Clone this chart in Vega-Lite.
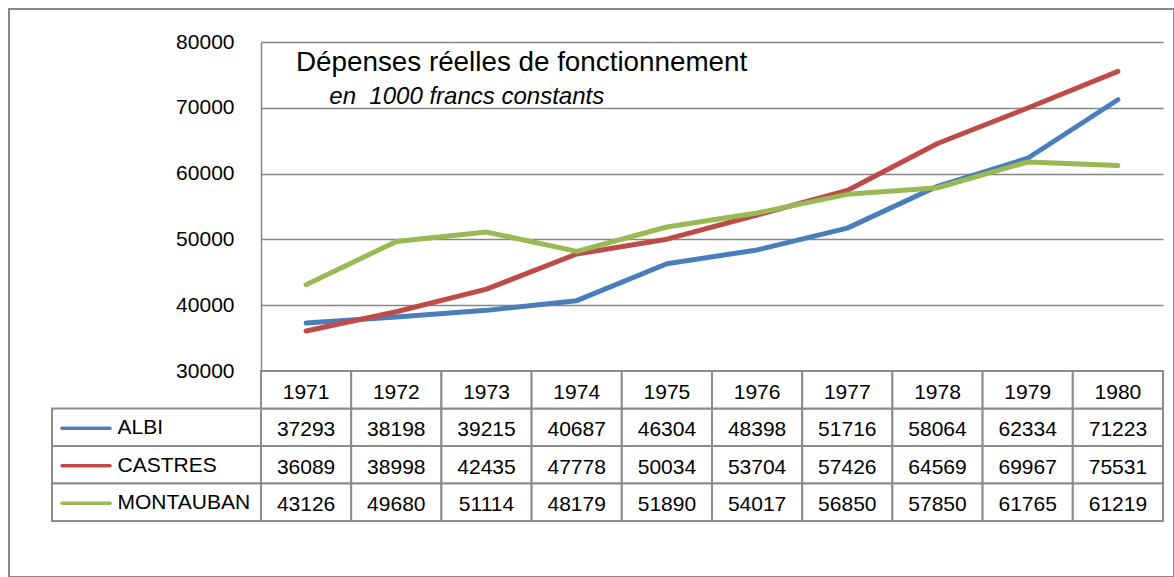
{
  "$schema": "https://vega.github.io/schema/vega-lite/v6.json",
  "width": 1165,
  "height": 568,
  "autosize": {"type": "none"},
  "padding": {"left": 9, "top": 9, "right": 0, "bottom": 0},
  "background": "white",
  "config": {
    "view": {"stroke": "#898989", "strokeWidth": 2},
    "font": "Liberation Sans"
  },
  "title": {
    "text": "Dépenses réelles de fonctionnement",
    "subtitle": "\u200b\u00a0\u00a0\u00a0\u00a0\u00a0en\u00a0\u00a01000 francs constants",
    "anchor": "start",
    "frame": "group",
    "orient": "top",
    "offset": -100,
    "dx": 287,
    "font": "Liberation Sans",
    "fontSize": 27.8,
    "fontWeight": "normal",
    "color": "black",
    "subtitleFont": "Liberation Sans",
    "subtitleFontSize": 24,
    "subtitleFontStyle": "italic",
    "subtitleColor": "black",
    "subtitlePadding": 8
  },
  "datasets": {
    "vals": [
      {"city": "ALBI", "year": 1971, "value": 37293},
      {"city": "ALBI", "year": 1972, "value": 38198},
      {"city": "ALBI", "year": 1973, "value": 39215},
      {"city": "ALBI", "year": 1974, "value": 40687},
      {"city": "ALBI", "year": 1975, "value": 46304},
      {"city": "ALBI", "year": 1976, "value": 48398},
      {"city": "ALBI", "year": 1977, "value": 51716},
      {"city": "ALBI", "year": 1978, "value": 58064},
      {"city": "ALBI", "year": 1979, "value": 62334},
      {"city": "ALBI", "year": 1980, "value": 71223},
      {"city": "CASTRES", "year": 1971, "value": 36089},
      {"city": "CASTRES", "year": 1972, "value": 38998},
      {"city": "CASTRES", "year": 1973, "value": 42435},
      {"city": "CASTRES", "year": 1974, "value": 47778},
      {"city": "CASTRES", "year": 1975, "value": 50034},
      {"city": "CASTRES", "year": 1976, "value": 53704},
      {"city": "CASTRES", "year": 1977, "value": 57426},
      {"city": "CASTRES", "year": 1978, "value": 64569},
      {"city": "CASTRES", "year": 1979, "value": 69967},
      {"city": "CASTRES", "year": 1980, "value": 75531},
      {"city": "MONTAUBAN", "year": 1971, "value": 43126},
      {"city": "MONTAUBAN", "year": 1972, "value": 49680},
      {"city": "MONTAUBAN", "year": 1973, "value": 51114},
      {"city": "MONTAUBAN", "year": 1974, "value": 48179},
      {"city": "MONTAUBAN", "year": 1975, "value": 51890},
      {"city": "MONTAUBAN", "year": 1976, "value": 54017},
      {"city": "MONTAUBAN", "year": 1977, "value": 56850},
      {"city": "MONTAUBAN", "year": 1978, "value": 57850},
      {"city": "MONTAUBAN", "year": 1979, "value": 61765},
      {"city": "MONTAUBAN", "year": 1980, "value": 61219}
    ]
  },
  "data": {"name": "vals"},
  "layer": [
    {
      "mark": {"type": "line", "strokeWidth": 5, "strokeCap": "round", "strokeJoin": "round"},
      "encoding": {
        "x": {"field": "year", "type": "quantitative", "scale": {"domain": [1970.5, 1980.5], "range": [252, 1154], "nice": false, "zero": false}, "axis": null},
        "y": {
          "field": "value", "type": "quantitative",
          "scale": {"domain": [30000, 80000], "range": [362, 33], "nice": false, "zero": false},
          "axis": {
            "orient": "left", "offset": -252, "values": [30000, 40000, 50000, 60000, 70000, 80000],
            "format": "d", "grid": false, "tickSize": -902, "tickColor": "#868686", "tickWidth": 1.5,
            "domainColor": "#868686", "domainWidth": 1.5, "labelFont": "Liberation Sans",
            "labelFontSize": 21, "labelColor": "black", "labelPadding": 929, "title": null
          }
        },
        "color": {"field": "city", "type": "nominal", "scale": {"domain": ["ALBI", "CASTRES", "MONTAUBAN"], "range": ["#4A7EBB", "#BE4B48", "#98B954"]}, "legend": null}
      }
    },
    {
      "layer": [
        {
          "layer": [
            {
              "mark": {"type": "rect", "fill": "white", "stroke": "#8C8C8C", "strokeWidth": 2},
              "encoding": {
                "x": {"field": "year", "type": "ordinal", "scale": {"type": "band", "domain": [1971, 1972, 1973, 1974, 1975, 1976, 1977, 1978, 1979, 1980], "range": [252, 1154], "paddingInner": 0, "paddingOuter": 0}, "axis": null},
                "y": {"field": "city", "type": "nominal", "scale": {"type": "band", "domain": ["année", "ALBI", "CASTRES", "MONTAUBAN"], "range": [362, 512], "paddingInner": 0, "paddingOuter": 0}, "axis": null}
              }
            },
            {
              "mark": {"type": "text", "fontSize": 21, "font": "Liberation Sans", "color": "black", "baseline": "middle", "dy": 3},
              "encoding": {
                "x": {"field": "year", "type": "ordinal", "scale": {"type": "band", "domain": [1971, 1972, 1973, 1974, 1975, 1976, 1977, 1978, 1979, 1980], "range": [252, 1154], "paddingInner": 0, "paddingOuter": 0}, "axis": null},
                "y": {"field": "city", "type": "nominal", "scale": {"type": "band", "domain": ["année", "ALBI", "CASTRES", "MONTAUBAN"], "range": [362, 512], "paddingInner": 0, "paddingOuter": 0}, "axis": null},
                "text": {"field": "value", "type": "quantitative", "format": "d"}
              }
            },
            {
              "transform": [{"filter": "datum.city === 'ALBI'"}],
              "mark": {"type": "rect", "fill": "white", "stroke": "#8C8C8C", "strokeWidth": 2},
              "encoding": {
                "x": {"field": "year", "type": "ordinal", "scale": {"type": "band", "domain": [1971, 1972, 1973, 1974, 1975, 1976, 1977, 1978, 1979, 1980], "range": [252, 1154], "paddingInner": 0, "paddingOuter": 0}, "axis": null},
                "y": {"datum": "année", "type": "nominal", "scale": {"type": "band", "domain": ["année", "ALBI", "CASTRES", "MONTAUBAN"], "range": [362, 512], "paddingInner": 0, "paddingOuter": 0}, "axis": null}
              }
            },
            {
              "transform": [{"filter": "datum.city === 'ALBI'"}],
              "mark": {"type": "text", "fontSize": 21, "font": "Liberation Sans", "color": "black", "baseline": "middle", "dy": 3},
              "encoding": {
                "x": {"field": "year", "type": "ordinal", "scale": {"type": "band", "domain": [1971, 1972, 1973, 1974, 1975, 1976, 1977, 1978, 1979, 1980], "range": [252, 1154], "paddingInner": 0, "paddingOuter": 0}, "axis": null},
                "y": {"datum": "année", "type": "nominal", "scale": {"type": "band", "domain": ["année", "ALBI", "CASTRES", "MONTAUBAN"], "range": [362, 512], "paddingInner": 0, "paddingOuter": 0}, "axis": null},
                "text": {"field": "year", "type": "ordinal"}
              }
            }
          ]
        },
        {
          "transform": [{"filter": "datum.year === 1971"}],
          "layer": [
            {
              "mark": {"type": "rect", "fill": "white", "stroke": "#8C8C8C", "strokeWidth": 2},
              "encoding": {
                "x": {"datum": "série", "type": "nominal", "scale": {"type": "band", "domain": ["série"], "range": [43, 252], "paddingInner": 0, "paddingOuter": 0}, "axis": null},
                "y": {"field": "city", "type": "nominal", "scale": {"type": "band", "domain": ["année", "ALBI", "CASTRES", "MONTAUBAN"], "range": [362, 512], "paddingInner": 0, "paddingOuter": 0}, "axis": null}
              }
            },
            {
              "mark": {"type": "point", "shape": "stroke", "size": 2304, "strokeWidth": 3.5, "strokeCap": "round", "filled": false, "opacity": 1, "xOffset": -70.5, "yOffset": 1},
              "encoding": {
                "x": {"datum": "série", "type": "nominal", "scale": {"type": "band", "domain": ["série"], "range": [43, 252], "paddingInner": 0, "paddingOuter": 0}, "axis": null},
                "y": {"field": "city", "type": "nominal", "scale": {"type": "band", "domain": ["année", "ALBI", "CASTRES", "MONTAUBAN"], "range": [362, 512], "paddingInner": 0, "paddingOuter": 0}, "axis": null},
                "color": {"field": "city", "type": "nominal", "legend": null}
              }
            },
            {
              "mark": {"type": "text", "fontSize": 21, "font": "Liberation Sans", "color": "black", "align": "left", "baseline": "middle", "dx": -39, "dy": 1},
              "encoding": {
                "x": {"datum": "série", "type": "nominal", "scale": {"type": "band", "domain": ["série"], "range": [43, 252], "paddingInner": 0, "paddingOuter": 0}, "axis": null},
                "y": {"field": "city", "type": "nominal", "scale": {"type": "band", "domain": ["année", "ALBI", "CASTRES", "MONTAUBAN"], "range": [362, 512], "paddingInner": 0, "paddingOuter": 0}, "axis": null},
                "text": {"field": "city", "type": "nominal"}
              }
            }
          ]
        }
      ],
      "resolve": {"scale": {"x": "independent"}}
    }
  ],
  "resolve": {"scale": {"x": "independent", "y": "independent"}}
}
